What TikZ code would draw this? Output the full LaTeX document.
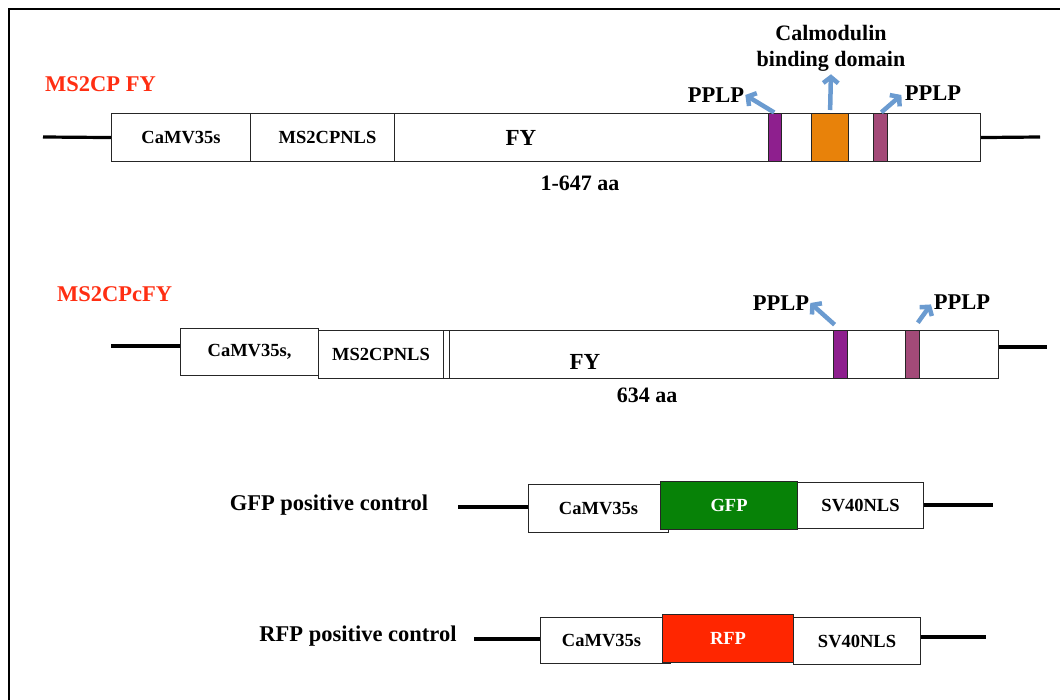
\documentclass[tikz,border=0pt]{standalone}
\usepackage{fontspec}
\setmainfont{Liberation Serif}
\usetikzlibrary{arrows.meta}
\definecolor{titlered}{HTML}{FF2E12}
\definecolor{pplppurple}{HTML}{8E1F8E}
\definecolor{cbdorange}{HTML}{E8820A}
\definecolor{pplpmauve}{HTML}{A34A78}
\definecolor{gfpgreen}{HTML}{078207}
\definecolor{rfpred}{HTML}{FF2600}
\definecolor{arrowblue}{HTML}{6B9BD0}
\begin{document}
\begin{tikzpicture}[x=1pt,y=-1pt,
  box/.style={draw=black!85, line width=1.1pt, fill=white, inner sep=0pt, anchor=north west,
    font=\bfseries\fontsize{18.5}{20}\selectfont},
  bar/.style={draw=black!85, line width=1.1pt, inner sep=0pt, anchor=north west},
  dna/.style={line width=3.2pt, black},
  callout/.style={line width=4.5pt, draw=arrowblue, -{Straight Barb[length=6pt,width=15pt]}},
  lbl/.style={font=\bfseries\fontsize{22.5}{26}\selectfont, inner sep=1pt},
  title/.style={font=\bfseries\fontsize{22.5}{26}\selectfont, text=titlered, anchor=west, inner sep=0pt}]
\useasboundingbox (0,0) rectangle (1060,700);
% frame
\draw[line width=2.5pt] (9,700) -- (9,9) -- (1060,9);

% ---------- construct 1 ----------
\node[title] (title1) at (45,84) {MS2CP FY};
\node[box, minimum width=139pt, minimum height=48pt] (cam1) at (111,113) {CaMV35s};
\node[box, minimum width=144pt, minimum height=48pt] (nls1) at (250,113) {\hspace*{10pt}MS2CPNLS};
\node[box, minimum width=586pt, minimum height=48pt] (fy1) at (394,113) {};
\node[lbl, font=\bfseries\fontsize{23}{26}\selectfont] (fy1t) at (521,138) {FY};
\node[bar, fill=pplppurple, minimum width=13pt, minimum height=48pt] (p1a) at (768,113) {};
\node[bar, fill=cbdorange, minimum width=37pt, minimum height=48pt] (cbd) at (811,113) {};
\node[bar, fill=pplpmauve, minimum width=14pt, minimum height=48pt] (p1b) at (873,113) {};
\node[lbl, font=\bfseries\fontsize{22}{26}\selectfont] (aa1) at (580,183) {1-647 aa};
\node[lbl] (pplp1a) at (716,95) {PPLP};
\node[lbl] (pplp1b) at (933,93) {PPLP};
\node[lbl, align=center, font=\bfseries\fontsize{22}{26}\selectfont] (calm) at (831,48) {Calmodulin\\binding domain};
\draw[callout, shorten <=1pt] (p1a.north) -- (pplp1a.east);
\draw[callout, shorten <=3pt, shorten >=2pt] (cbd.north) -- (calm.south);
\draw[callout, shorten <=1pt, shorten >=3pt] (p1b.north) -- (pplp1b.west);
\coordinate (e1l) at (43,137);
\coordinate (e1r) at (1040,137);
\draw[dna] (e1l) -- (cam1.west);
\draw[dna] (fy1.east) -- (e1r);

% ---------- construct 2 ----------
\node[title] (title2) at (57,294) {MS2CPcFY};
\node[box, minimum width=138pt, minimum height=47pt] (cam2) at (180,328) {CaMV35s,};
\node[box, minimum width=125pt, minimum height=48pt] (nls2) at (318,330) {\raisebox{-3pt}{MS2CPNLS}};
\node[bar, fill=white, minimum width=6pt, minimum height=48pt] (gap2) at (443,330) {};
\node[box, minimum width=549pt, minimum height=48pt] (fy2) at (449,330) {};
\node[lbl, font=\bfseries\fontsize{23}{26}\selectfont] (fy2t) at (585,362) {FY};
\node[bar, fill=pplppurple, minimum width=14pt, minimum height=48pt] (p2a) at (833,330) {};
\node[bar, fill=pplpmauve, minimum width=14pt, minimum height=48pt] (p2b) at (905,330) {};
\node[lbl, font=\bfseries\fontsize{22}{26}\selectfont] (aa2) at (647,395) {634 aa};
\node[lbl] (pplp2a) at (781,303) {PPLP};
\node[lbl] (pplp2b) at (962,302) {PPLP};
\draw[callout, shorten <=8pt] (p2a.north) -- (pplp2a.east);
\draw[callout, shorten <=9pt, shorten >=3pt] (p2b.north) -- (pplp2b.west);
\coordinate (e2l) at (111,346);
\coordinate (e2r) at (1047,347);
\draw[dna] (e2l) -- (e2l -| cam2.west);
\draw[dna] (e2r -| fy2.east) -- (e2r);

% ---------- GFP control ----------
\node[lbl] (gfpt) at (329,505) {GFP positive control};
\node[box, minimum width=140pt, minimum height=48pt] (cam3) at (528,484) {\raisebox{-2pt}{CaMV35s}};
\node[box, fill=gfpgreen, text=white, minimum width=137pt, minimum height=48pt] (gfp) at (660,481) {GFP};
\node[box, minimum width=126pt, minimum height=46pt] (sv3) at (797,482) {SV40NLS};
\coordinate (e3l) at (458,507);
\coordinate (e3r) at (993,505);
\draw[dna] (e3l) -- (e3l -| cam3.west);
\draw[dna] (e3r -| sv3.east) -- (e3r);

% ---------- RFP control ----------
\node[lbl] (rfpt) at (358,636) {RFP positive control};
\node[box, minimum width=130pt, minimum height=46pt] (cam4) at (540,617) {\hspace*{-8pt}CaMV35s};
\node[box, fill=rfpred, text=white, minimum width=131pt, minimum height=48pt] (rfp) at (662,614) {RFP};
\node[box, minimum width=127pt, minimum height=47pt] (sv4) at (793,617) {SV40NLS};
\coordinate (e4l) at (474,639);
\coordinate (e4r) at (986,637);
\draw[dna] (e4l) -- (e4l -| cam4.west);
\draw[dna] (e4r -| sv4.east) -- (e4r);
\end{tikzpicture}
\end{document}
